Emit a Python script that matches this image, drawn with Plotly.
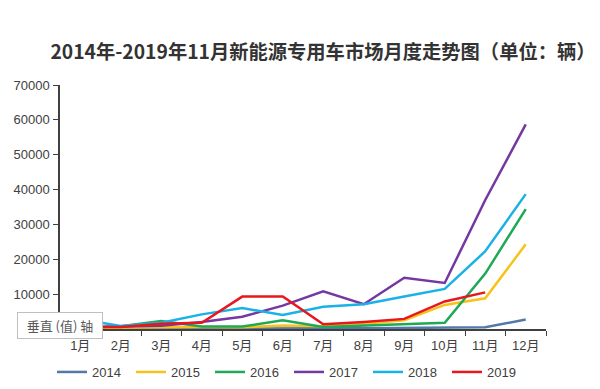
import plotly.graph_objects as go

months = ["1月", "2月", "3月", "4月", "5月", "6月", "7月", "8月", "9月", "10月", "11月", "12月"]
years = ["2014", "2015", "2016", "2017", "2018", "2019"]
v2014 = [100, 150, 200, 200, 200, 200, 200, 200, 300, 400, 500, 2700]
v2015 = [300, 400, 600, 600, 500, 1000, 800, 1500, 2500, 6900, 8800, 24300]
v2016 = [300, 800, 2300, 700, 700, 2500, 600, 1000, 1300, 1800, 15900, 34400]
v2017 = [500, 600, 900, 2000, 3500, 6700, 10800, 7100, 14700, 13200, 37000, 58700]
v2018 = [2800, 870, 1800, 4200, 6000, 4050, 6400, 7100, 9300, 11500, 22300, 38700]
v2019 = [600, 600, 1500, 1800, 9300, 9300, 1350, 2000, 2900, 7900, 10500]
series = [v2014, v2015, v2016, v2017, v2018, v2019]
colors = ["#5479a8", "#f7c31a", "#1fa855", "#7438a0", "#1ab2e6", "#e8161e"]

fig = go.Figure()
for name, vals, c in zip(years, series, colors):
    fig.add_trace(go.Scatter(x=months[:len(vals)], y=vals, mode="lines", name=name,
                             line=dict(color=c, width=2.5)))

# page body has an 8px default margin; figure is sized so page stays 600x389
W, H = 592, 381
L, R, T, B = 52, 54, 77, 60
PW, PH = W - L - R, H - T - B

font_fam = "Liberation Sans, Noto Sans CJK SC, sans-serif"
fig.update_layout(
    width=W, height=H,
    margin=dict(l=L, r=R, t=T, b=B, autoexpand=False),
    paper_bgcolor="white", plot_bgcolor="white",
    showlegend=True,
    font=dict(family=font_fam, size=13, color="#404040"),
    title=dict(text="<b>2014年-2019年11月新能源专用车市场月度走势图（单位：辆）</b>",
               x=315/W, xanchor="center", xref="container",
               y=1-44/H, yanchor="middle", yref="container",
               font=dict(family="Noto Sans CJK SC", size=19.3, color="#333333")),
    legend=dict(orientation="h", x=-8/PW, xanchor="left", y=-43/PH, yanchor="middle",
                font=dict(size=13, color="#404040"), entrywidth=34,
                bgcolor="rgba(0,0,0,0)"),
    xaxis=dict(type="category", range=[-0.5, 11.5], showline=True, linecolor="#404040",
               linewidth=1.5, ticks="outside", ticklen=5, tickcolor="#404040",
               tickson="boundaries", showgrid=False, zeroline=False, ticklabelstandoff=4,
               tickfont=dict(size=13, color="#404040")),
    yaxis=dict(range=[0, 70000], tickvals=[0, 10000, 20000, 30000, 40000, 50000, 60000, 70000],
               ticktext=["", "10000", "20000", "30000", "40000", "50000", "60000", "70000"],
               showline=True, linecolor="#404040", linewidth=1.5, ticks="outside", ticklen=5,
               tickcolor="#404040", showgrid=False, zeroline=False, ticklabelstandoff=1,
               tickfont=dict(size=13, color="#404040")),
)
fig.add_annotation(text="垂直 (值) 轴", xref="paper", yref="paper",
                   x=0, y=4/PH, xanchor="center", yanchor="middle",
                   showarrow=False, width=78, height=19, borderpad=3,
                   bgcolor="white", bordercolor="#bfbfbf", borderwidth=1,
                   font=dict(family="Noto Sans CJK SC", size=13, color="#595959"))
fig.write_html("out.html")
